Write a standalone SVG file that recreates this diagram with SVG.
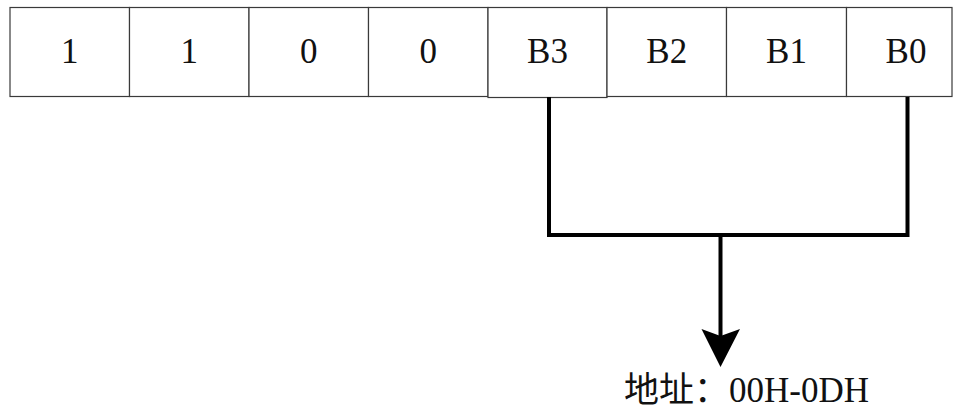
<svg xmlns="http://www.w3.org/2000/svg" width="956" height="410" viewBox="0 0 956 410">
  <style>
    .cell { fill: #ffffff; stroke: #3a3a3a; stroke-width: 1.2; }
    .lbl { font-family: "Liberation Serif", "Noto Sans CJK SC", serif; font-size: 35px; fill: #111111; text-anchor: middle; }
    .conn { fill: none; stroke: #000000; stroke-width: 4; stroke-linejoin: miter; stroke-linecap: butt; }
    .cap { font-family: "Liberation Serif", "Noto Sans CJK SC", serif; font-size: 35px; fill: #111111; }
  </style>
  <rect width="956" height="410" fill="#ffffff"/>
  <g id="bit7"><rect class="cell" x="10" y="7.5" width="119.5" height="89"/><text class="lbl" x="69.8" y="63">1</text></g>
  <g id="bit6"><rect class="cell" x="129.5" y="7.5" width="119.5" height="89"/><text class="lbl" x="189.3" y="63">1</text></g>
  <g id="bit5"><rect class="cell" x="249" y="7.5" width="119.5" height="89"/><text class="lbl" x="308.8" y="63">0</text></g>
  <g id="bit4"><rect class="cell" x="368.5" y="7.5" width="119.5" height="89"/><text class="lbl" x="428.3" y="63">0</text></g>
  <g id="bit3"><rect class="cell" x="488" y="7.5" width="119" height="90"/><text class="lbl" x="547.5" y="63">B3</text></g>
  <g id="bit2"><rect class="cell" x="607" y="7.5" width="119.5" height="89"/><text class="lbl" x="666.8" y="63">B2</text></g>
  <g id="bit1"><rect class="cell" x="726.5" y="7.5" width="120" height="89"/><text class="lbl" x="786.5" y="63">B1</text></g>
  <g id="bit0"><rect class="cell" x="846.5" y="7.5" width="105.5" height="89"/><text class="lbl" x="906" y="63">B0</text></g>
  <g id="connectors">
    <polyline class="conn" points="549,97 549,235 907.5,235 907.5,97"/>
    <line class="conn" x1="720.5" y1="235" x2="720.5" y2="338"/>
    <path d="M701.5,329 L720.5,367 L740,329 L720.5,336 Z" fill="#000000"/>
  </g>
  <g id="address">
    <text class="cap" x="624" y="402">地址：00H-0DH</text>
  </g>
</svg>
